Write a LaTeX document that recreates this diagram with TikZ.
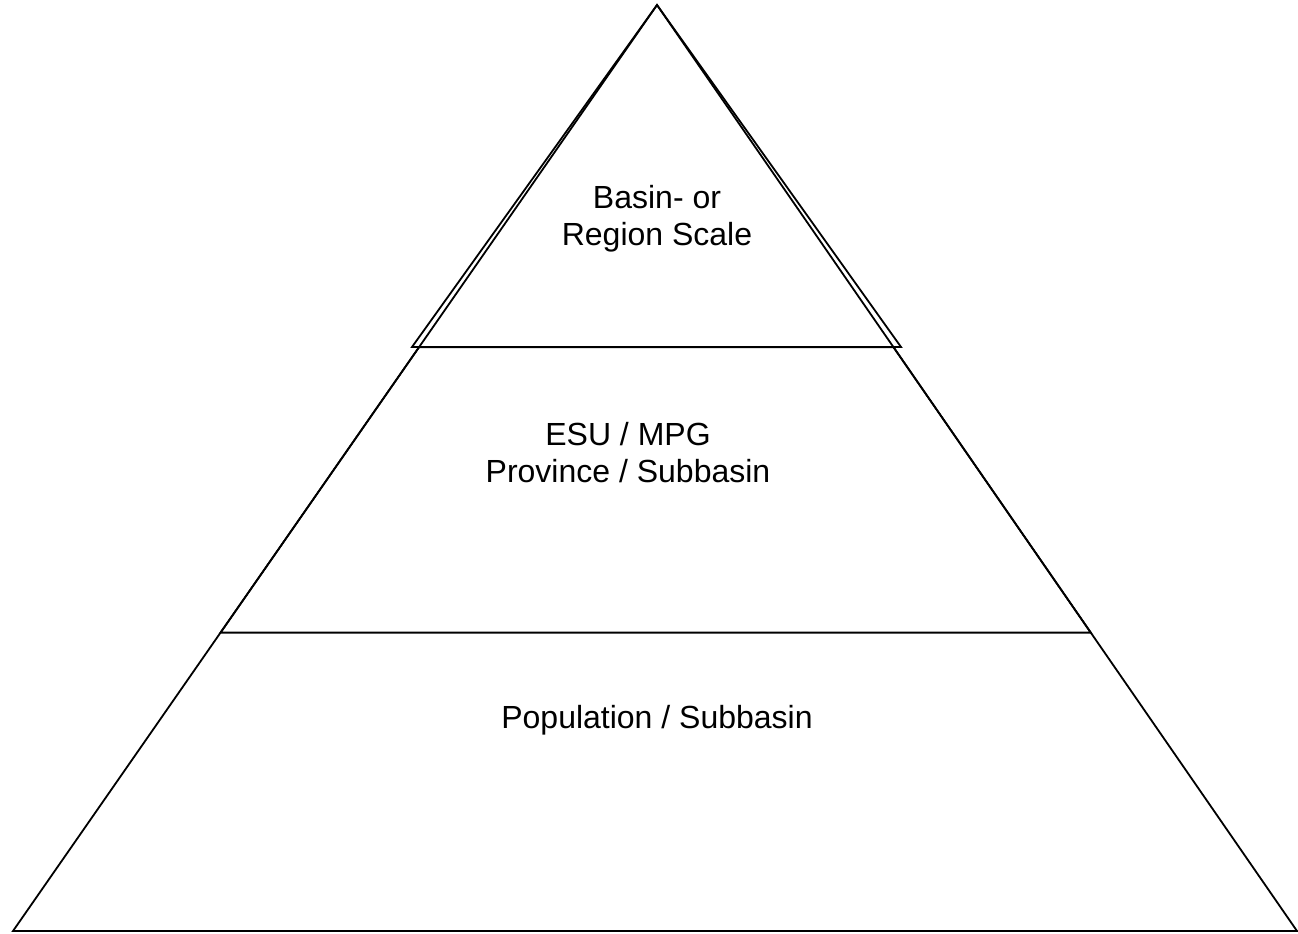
\documentclass[tikz,border=0pt]{standalone}
\usepackage{fontspec}
\setmainfont{Liberation Sans}
\usetikzlibrary{calc}
\begin{document}
\begin{tikzpicture}[x=1pt, y=-1pt, line width=1.8pt,
    level/.style={align=center, font=\fontsize{32}{37}\selectfont}]
  \useasboundingbox (0,0) rectangle (1298,934);
  % Outer pyramid, apex at the top, base along the bottom edge.
  \coordinate (apex) at (657,5);
  \coordinate (BL) at (13,931);
  \coordinate (BR) at (1297,931);
  \draw (BL) -- (apex) -- (BR) -- cycle;

  % Top tier: its own triangle, slightly wider than the outer sides.
  \coordinate (TL) at (412,347);
  \coordinate (TR) at (901,347);
  \draw (TL) -- (apex) -- (TR) -- cycle;

  % Middle tier: trapezoid whose sides lie on the outer sides.
  \coordinate (ML) at ($(apex)!0.6778!(BL)$);
  \coordinate (MR) at ($(apex)!0.6778!(BR)$);
  \coordinate (MTL) at ($(apex)!0.3696!(BL)$);
  \coordinate (MTR) at ($(apex)!0.3696!(BR)$);
  \draw (ML) -- (MTL) -- (MTR) -- (MR) -- cycle;

  % Labels
  \node[level] (top) at (657,219) {Basin- or\\Region Scale};
  \node[level] (mid) at (628,453) {ESU / MPG\\Province / Subbasin};
  \node[level] (low) at (657,720) {Population / Subbasin};
\end{tikzpicture}
\end{document}
